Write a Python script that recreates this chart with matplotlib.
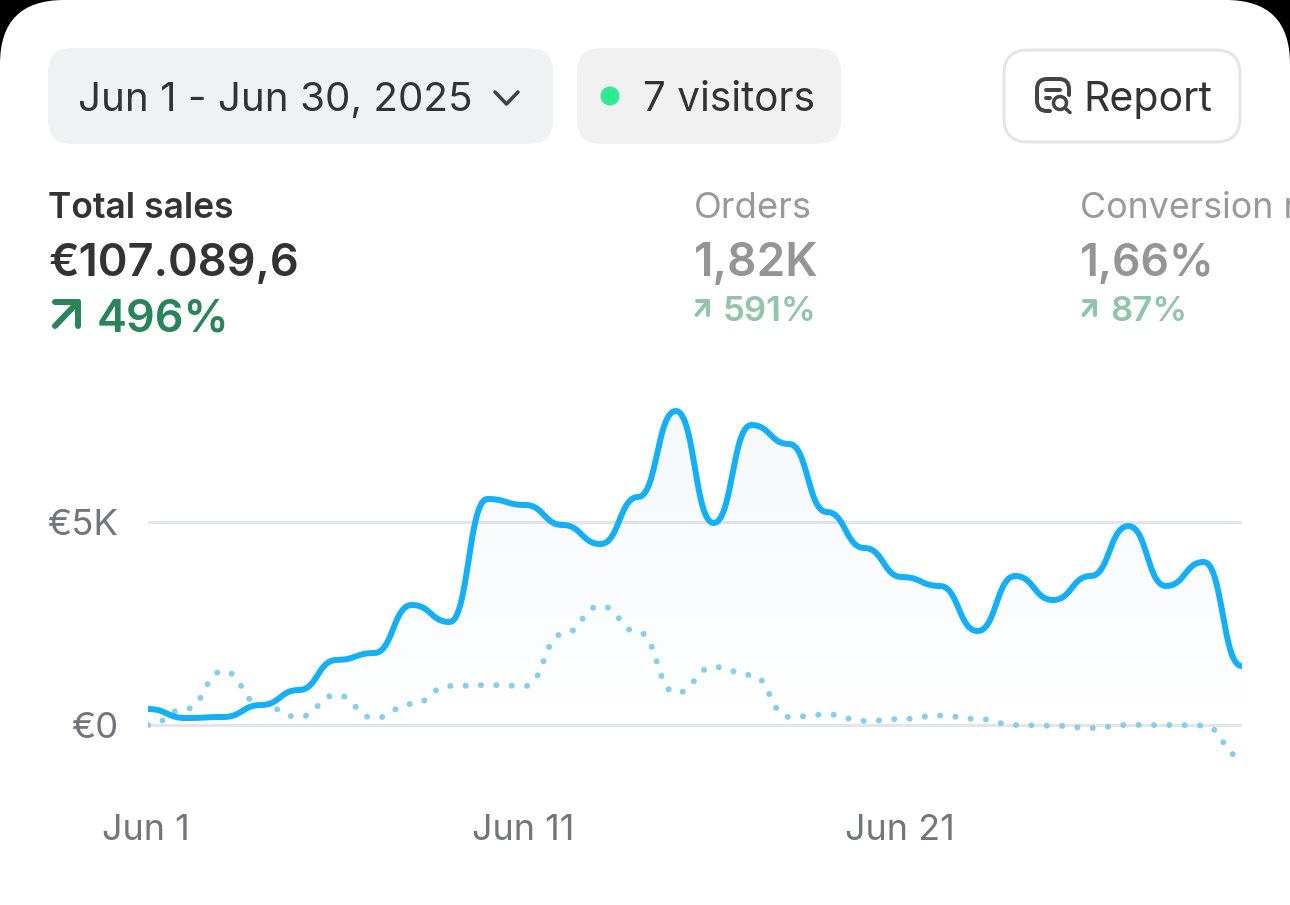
import numpy as np
import matplotlib
matplotlib.use("Agg")
import matplotlib.pyplot as plt
from matplotlib.patches import FancyBboxPatch, Circle, PathPatch
from matplotlib.path import Path
from matplotlib.transforms import ScaledTranslation

# ---- data ----
days = list(range(1, 31))
total_sales = [394, 172, 197, 493, 862, 1601, 1773, 2956, 2537, 5567,
               5419, 4926, 4458, 5616, 7734, 4975, 7389, 6921, 5246, 4360,
               3645, 3424, 2315, 3670, 3079, 3670, 4901, 3424, 4015, 1453]
previous_sales = [0, 394, 1330, 493, 197, 739, 172, 517, 961, 985,
                  961, 2241, 2931, 2291, 788, 1429, 1232, 197, 259, 99,
                  148, 232, 148, 0, -17, -74, 0, 0, -12, -788]
x_tick_days = [1, 11, 21]
x_tick_labels = ["Jun 1", "Jun 11", "Jun 21"]
y_ticks = [0, 5000]
y_tick_labels = ["€0", "€5K"]

FONT = "Inter"
plt.rcParams["font.family"] = [FONT, "DejaVu Sans"]
W, H = 1290, 905


def smooth(xs, ys, k=0.5, n=30):
    """Drawing curve: cubic Bezier segments with level control handles at each point."""
    xs, ys = np.asarray(xs, float), np.asarray(ys, float)
    X, Y = [], []
    t = np.linspace(0, 1, n, endpoint=False)
    for i in range(len(xs) - 1):
        dx = xs[i + 1] - xs[i]
        x1, x2 = xs[i] + k * dx, xs[i + 1] - k * dx
        X.append((1 - t) ** 3 * xs[i] + 3 * (1 - t) ** 2 * t * x1 + 3 * (1 - t) * t ** 2 * x2 + t ** 3 * xs[i + 1])
        Y.append((1 - t) ** 3 * ys[i] + 3 * (1 - t) ** 2 * t * ys[i] + 3 * (1 - t) * t ** 2 * ys[i + 1] + t ** 3 * ys[i + 1])
    X.append([xs[-1]])
    Y.append([ys[-1]])
    return np.concatenate(X), np.concatenate(Y)


fig = plt.figure(figsize=(W / 100, H / 100), dpi=100, facecolor="black")
ui = fig.add_axes([0, 0, 1, 1], zorder=1)
ui.set_xlim(0, W)
ui.set_ylim(H, 0)
ui.axis("off")


def pt(px):
    return px * 0.72


def pill(x0, y0, x1, y1, r, fc, ec="none", lw=0):
    ui.add_patch(FancyBboxPatch((x0, y0), x1 - x0, y1 - y0, boxstyle=f"round,pad=0,rounding_size={r}",
                                fc=fc, ec=ec, lw=pt(lw)))


def txt(x, y, s, px, color, weight="normal"):
    ui.text(x, y, s, fontsize=pt(px), color=color, fontweight=weight, ha="left", va="center_baseline",
            clip_on=False)


def arrow(x0, y0, x1, y1, color, lw):
    ui.plot([x0, x1], [y0, y1], color=color, lw=pt(lw), solid_capstyle="round", zorder=3)
    ui.plot([x0, x1, x1], [y1, y1, y0], color=color, lw=pt(lw),
            solid_capstyle="round", solid_joinstyle="round", zorder=3)


# card
pill(0, 0, W, H + 200, 64, "white")
# controls
pill(48, 48, 553, 144, 24, "#F0F1F3")
pill(577, 48, 841, 144, 24, "#F1F1F1")
pill(1004, 50, 1240, 142, 24, "white", "#E5E5E5", 3)
txt(78, 96, "Jun 1 - Jun 30, 2025", 40.4, "#333333")
ui.plot([495, 506.5, 518], [92, 104, 92], color="#404040", lw=pt(3.5), solid_capstyle="round", solid_joinstyle="round")
ui.add_patch(Circle((610, 96), 9.5, fc="#2EEA95", ec="none"))
txt(643, 96, "7 visitors", 40.5, "#333333")
txt(1083, 96, "Report", 41, "#333333")
# report icon
ic = "#444444"
r = 10
icon_verts = [(1050, 111), (1037 + r, 111), (1037, 111), (1037, 111 - r), (1037, 79 + r), (1037, 79), (1037 + r, 79),
              (1069 - r, 79), (1069, 79), (1069, 79 + r), (1069, 95)]
icon_codes = [Path.MOVETO, Path.LINETO, Path.CURVE3, Path.CURVE3, Path.LINETO, Path.CURVE3, Path.CURVE3,
              Path.LINETO, Path.CURVE3, Path.CURVE3, Path.LINETO]
ui.add_patch(PathPatch(Path(icon_verts, icon_codes), fc="none", ec=ic, lw=pt(4), capstyle="round"))
ui.plot([1046, 1060], [90, 90], color=ic, lw=pt(4), solid_capstyle="round")
ui.plot([1046, 1050], [98, 98], color=ic, lw=pt(4), solid_capstyle="round")
ui.add_patch(Circle((1060, 103), 6.5, fc="white", ec=ic, lw=pt(3.5)))
ui.plot([1065, 1070], [108, 112.5], color=ic, lw=pt(3.5), solid_capstyle="round")

# KPI block
txt(48.5, 204.5, "Total sales", 35.5, "#333333", 600)
txt(48.5, 259, "€107.089,6", 45.2, "#333333", 600)
txt(97, 314.5, "496%", 45, "#2A8459", 600)
arrow(55, 326, 78, 302, "#2A8459", 6)
txt(693.5, 205, "Orders", 36.5, "#999999")
txt(693.5, 259, "1,82K", 46, "#959595", 600)
txt(723, 308, "591%", 34.8, "#92C3AB", 600)
arrow(696.5, 315, 708, 301, "#92C3AB", 4)
txt(1080, 205, "Conversion rate", 35.8, "#999999")
txt(1080, 259, "1,66%", 44.5, "#959595", 600)
txt(1110, 308, "87%", 34.8, "#92C3AB", 600)
arrow(1083.5, 315, 1095, 301, "#92C3AB", 4)

# ---- chart ----
LEFT, RIGHT, TOP, BOTTOM = 148, 1241.5, 380, 790
ax = fig.add_axes([LEFT / W, 1 - BOTTOM / H, (RIGHT - LEFT) / W, (BOTTOM - TOP) / H], zorder=2)
ax.patch.set_alpha(0)
per_px = 5000 / 203
ylim = ((725 - BOTTOM) * per_px, (725 - TOP) * per_px)
ax.set_xlim(1, 30)
ax.set_ylim(*ylim)
for s in ax.spines.values():
    s.set_visible(False)
ax.set_xticks(x_tick_days, x_tick_labels)
ax.set_yticks(y_ticks, y_tick_labels)
ax.tick_params(axis="x", length=0, pad=pt(24), labelsize=pt(36), labelcolor="#74747C")
ax.tick_params(axis="y", length=0, pad=pt(30), labelsize=pt(36.5), labelcolor="#74747C")
shift = ScaledTranslation(-2 / 100, 0, fig.dpi_scale_trans)
for lab in ax.get_xticklabels():
    lab.set_transform(lab.get_transform() + shift)
ax.grid(axis="y", color="#E4E5E6", lw=pt(3))
ax.set_axisbelow(True)

cx, cy = smooth(days, total_sales)
grad = np.zeros((256, 1, 4))
grad[..., :3] = matplotlib.colors.to_rgb("#4A96CC")
grad[..., 3] = np.linspace(0.058, 0.0, 256)[:, None]
im = ax.imshow(grad, extent=(1, 30, 0, max(total_sales)), origin="upper", aspect="auto", zorder=1.5)
clip = Path(np.column_stack([np.r_[cx, cx[-1], cx[0]], np.r_[cy, 0, 0]]))
im.set_clip_path(clip, ax.transData)
ax.set_xlim(1, 30)
ax.set_ylim(*ylim)

px, py = smooth(days, previous_sales)
ax.plot(px, py, color="#86CEEE", lw=pt(6), dash_capstyle="round", dashes=(0.01, 2.55), zorder=2)
ax.plot(cx, cy, color="#14AFF5", lw=pt(6), solid_capstyle="round", zorder=3)

fig.savefig("out.png", dpi=100, facecolor="black")
